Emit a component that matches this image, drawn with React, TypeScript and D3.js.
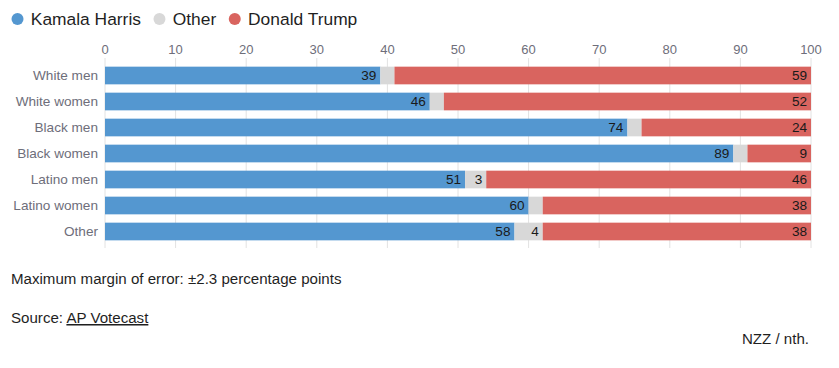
import React, { useRef, useEffect } from 'react';
import * as d3 from 'd3';

const groups = ['White men', 'White women', 'Black men', 'Black women', 'Latino men', 'Latino women', 'Other'];
const harris = [39, 46, 74, 89, 51, 60, 58];
const other = [2, 2, 2, 2, 3, 2, 4];
const trump = [59, 52, 24, 9, 46, 38, 38];
const ticks = [0, 10, 20, 30, 40, 50, 60, 70, 80, 90, 100];
const legendItems = ['Kamala Harris', 'Other', 'Donald Trump'];
const colors = ['#5497d0', '#d8d8d8', '#d9645f'];

const W = 839, H = 368;
const sans = '"Liberation Sans", Arial, sans-serif';

const App = () => {
    const ref = useRef(null);

    useEffect(() => {
        const svg = d3.select(ref.current);
        svg.selectAll('*').remove();

        const x = d3.scaleLinear().domain([0, 100]).range([105, 811]);
        const y = d3.scaleBand().domain(groups).range([62.5, 244.5]).paddingInner(0.32).paddingOuter(0.16);

        // legend
        let lx = 17.5;
        const legend = svg.append('g');
        legendItems.forEach((name, i) => {
            legend.append('circle').attr('cx', lx).attr('cy', 19).attr('r', 6).attr('fill', colors[i]);
            const t = legend.append('text')
                .attr('x', lx + 13.3).attr('y', 25)
                .attr('font-family', sans).attr('font-size', 17.4).attr('fill', '#1f1f1f')
                .text(name);
            const w = (t.node() as SVGTextElement).getComputedTextLength();
            lx = lx + 13.3 + w + 18.5;
        });

        // grid + ticks
        const grid = svg.append('g');
        ticks.forEach(t => {
            grid.append('line')
                .attr('x1', x(t)).attr('x2', x(t)).attr('y1', 58).attr('y2', 248)
                .attr('stroke', '#e2e2e2').attr('stroke-width', 1);
            grid.append('text')
                .attr('x', x(t)).attr('y', 54)
                .attr('text-anchor', 'middle')
                .attr('font-family', sans).attr('font-size', 13).attr('fill', '#6e6e7a')
                .text(t);
        });

        // rows
        const rows = svg.append('g').selectAll('g').data(groups).join('g')
            .attr('transform', d => `translate(0,${y(d)})`);
        const bh = y.bandwidth();

        rows.append('text')
            .attr('x', 98).attr('y', bh / 2 + 5)
            .attr('text-anchor', 'end')
            .attr('font-family', sans).attr('font-size', 13.6).attr('fill', '#6e6e7a')
            .text(d => d);

        rows.each(function (d, i) {
            const g = d3.select(this);
            const segs = [
                [0, harris[i]],
                [harris[i], harris[i] + other[i]],
                [harris[i] + other[i], 100],
            ];
            const vals = [harris[i], other[i], trump[i]];
            segs.forEach((s, k) => {
                g.append('rect')
                    .attr('x', x(s[0])).attr('y', 0)
                    .attr('width', x(s[1]) - x(s[0])).attr('height', bh)
                    .attr('fill', colors[k]);
                if (k !== 1 || vals[k] >= 3) {
                    g.append('text')
                        .attr('x', x(s[1]) - 4).attr('y', bh / 2 + 5)
                        .attr('text-anchor', 'end')
                        .attr('font-family', sans).attr('font-size', 13.6).attr('fill', '#1a1a1a')
                        .text(vals[k]);
                }
            });
        });

        // footer
        svg.append('text')
            .attr('x', 11).attr('y', 284)
            .attr('font-family', sans).attr('font-size', 15.1).attr('fill', '#1f1f1f')
            .text('Maximum margin of error: ±2.3 percentage points');
        const src = svg.append('text')
            .attr('x', 11).attr('y', 323)
            .attr('font-family', sans).attr('font-size', 15.1).attr('fill', '#1f1f1f');
        src.append('tspan').text('Source: ');
        src.append('tspan').attr('text-decoration', 'underline').text('AP Votecast');
        svg.append('text')
            .attr('x', 809).attr('y', 344)
            .attr('text-anchor', 'end')
            .attr('font-family', sans).attr('font-size', 15.1).attr('fill', '#1f1f1f')
            .text('NZZ / nth.');
    }, []);

    return (
        <div style={{ margin: -8 }}>
            <svg ref={ref} width={W} height={H} style={{ display: 'block' }}></svg>
        </div>
    );
};

export default App;
